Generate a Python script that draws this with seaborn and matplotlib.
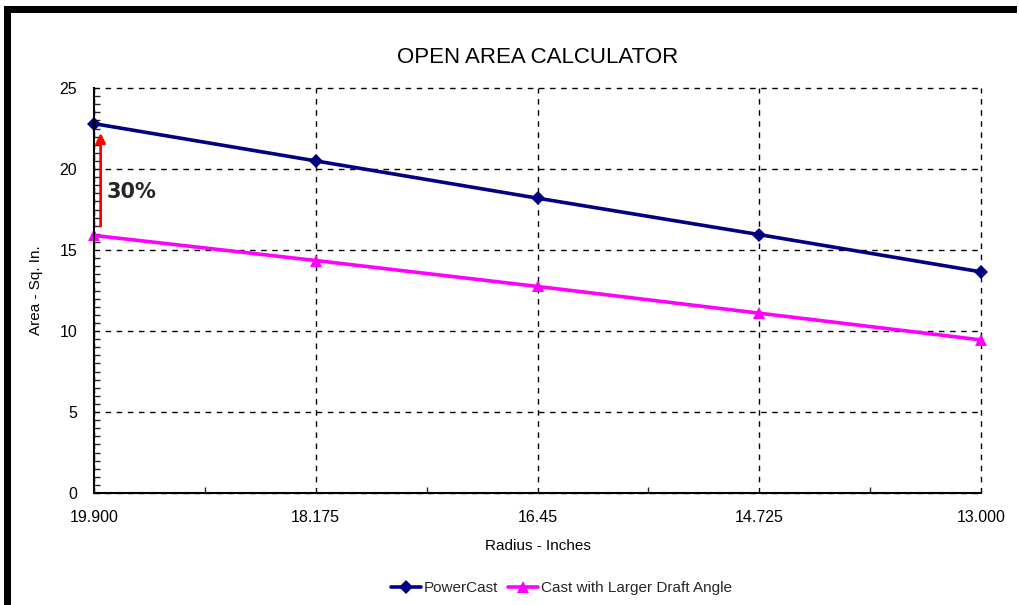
import pandas as pd
import matplotlib.pyplot as plt
import seaborn as sns
from matplotlib.patches import Rectangle
from matplotlib.ticker import MultipleLocator

# Data
radius_labels = ['19.900', '18.175', '16.45', '14.725', '13.000']
powercast = [22.8, 20.5, 18.2, 15.95, 13.65]
larger_draft = [15.9, 14.35, 12.75, 11.1, 9.45]
series_names = ['PowerCast', 'Cast with Larger Draft Angle']

df = pd.DataFrame({
    'pos': list(range(len(radius_labels))) * 2,
    'area': powercast + larger_draft,
    'series': [series_names[0]] * len(powercast) + [series_names[1]] * len(larger_draft),
})

sns.set_theme(style="white")
plt.rcParams['font.family'] = ['Liberation Sans', 'DejaVu Sans']

fig = plt.figure(figsize=(10.19, 6.05), dpi=100)
ax = fig.add_axes([94 / 1019, 1 - 493 / 605, (981 - 94) / 1019, (493 - 88) / 605])

sns.lineplot(
    data=df, x='pos', y='area', hue='series', style='series',
    palette=['#000080', '#FF00FF'], markers=['D', '^'], dashes=False,
    markersize=7, linewidth=2.6, markeredgewidth=0, ax=ax,
)
for line in ax.get_lines():
    line.set_clip_on(False)
    if line.get_marker() == '^':
        line.set_markersize(9)

ax.set_xlim(0, len(radius_labels) - 1)
ax.set_ylim(0, 25)
ax.set_xticks(range(len(radius_labels)))
ax.set_xticklabels(radius_labels)
ax.xaxis.set_minor_locator(MultipleLocator(0.5))
ax.yaxis.set_major_locator(MultipleLocator(5))
ax.yaxis.set_minor_locator(MultipleLocator(0.5))

ax.grid(True, which='major', color='black', linestyle=(0, (4, 4)), linewidth=1)
for gl in ax.get_xgridlines() + ax.get_ygridlines():
    gl.set_clip_on(False)
for side in ['top', 'right']:
    ax.spines[side].set_visible(False)
for side in ['left', 'bottom']:
    ax.spines[side].set_color('black')
    ax.spines[side].set_linewidth(1.5)

ax.tick_params(axis='both', which='major', direction='inout', length=8, width=1.2,
               labelsize=11.5, colors='black', pad=8)
ax.tick_params(axis='y', which='minor', direction='in', length=4, width=1, left=True)
ax.tick_params(axis='x', which='minor', direction='in', length=4, width=1, bottom=True)
ax.tick_params(axis='x', which='minor', labelbottom=False)

ax.set_title('OPEN AREA CALCULATOR', fontsize=16, pad=18, color='black')
ax.set_xlabel('Radius - Inches', fontsize=11, labelpad=10, color='black')
ax.set_ylabel('Area - Sq. In.', fontsize=11, labelpad=12, color='black')

# 30% increase annotation
ax.annotate('', xy=(0.03, powercast[0] - 0.4), xytext=(0.03, larger_draft[0] + 0.4),
            arrowprops=dict(arrowstyle='-|>', color='red', lw=2, mutation_scale=14))
ax.text(0.055, 18.6, '30%', fontsize=15, fontweight='bold', va='center', ha='left',
        family=['DejaVu Sans'])

handles, labels = ax.get_legend_handles_labels()
ax.legend(handles, labels, loc='center', bbox_to_anchor=(0.527, -0.235), ncol=2,
          frameon=False, fontsize=11, handlelength=2.0, handletextpad=0.2,
          columnspacing=0.6)

# Black frame on the left and top edges of the picture
fig.add_artist(Rectangle((4 / 1019, 0), 7 / 1019, 1 - 6 / 605, transform=fig.transFigure,
                         color='black', lw=0))
fig.add_artist(Rectangle((4 / 1019, 1 - 13 / 605), 1013 / 1019, 7 / 605,
                         transform=fig.transFigure, color='black', lw=0))

fig.savefig('out.png', dpi=100)
plt.close(fig)
